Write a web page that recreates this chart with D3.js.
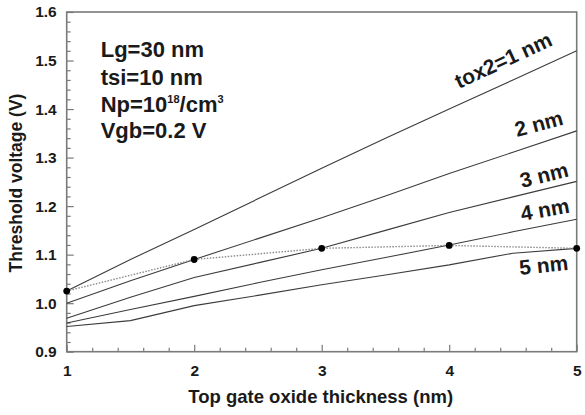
<!DOCTYPE html>
<html>
<head>
<meta charset="utf-8">
<script src="https://cdn.jsdelivr.net/npm/d3@7"></script>
<style>
  html, body { margin: 0; padding: 0; background: #fff; }
  svg { display: block; font-family: "Liberation Sans", Arial, sans-serif; }
</style>
</head>
<body>
<svg id="chart" width="585" height="415"></svg>
<script>
// ---- data ----
const topOxide = [1, 1.5, 2, 2.5, 3, 3.5, 4, 4.5, 5];
const vt_tox2_1 = [1.025, 1.090, 1.152, 1.215, 1.278, 1.340, 1.400, 1.460, 1.520];
const vt_tox2_2 = [1.000, 1.046, 1.090, 1.133, 1.176, 1.221, 1.267, 1.311, 1.355];
const vt_tox2_3 = [0.969, 1.012, 1.053, 1.083, 1.113, 1.150, 1.187, 1.219, 1.251];
const vt_tox2_4 = [0.959, 0.987, 1.014, 1.042, 1.069, 1.094, 1.120, 1.147, 1.173];
const vt_tox2_5 = [0.952, 0.964, 0.995, 1.016, 1.038, 1.058, 1.079, 1.103, 1.113];
const symX = [1, 2, 3, 4, 5];
const symY = [1.025, 1.090, 1.113, 1.119, 1.113];
const seriesLabels = ["tox2=1 nm", "2 nm", "3 nm", "4 nm", "5 nm"];
const xTicks = [1, 2, 3, 4, 5];
const yTicks = [0.9, 1.0, 1.1, 1.2, 1.3, 1.4, 1.5, 1.6];
const xTitle = "Top gate oxide thickness (nm)";
const yTitle = "Threshold voltage (V)";

const series = [vt_tox2_1, vt_tox2_2, vt_tox2_3, vt_tox2_4, vt_tox2_5];

// ---- layout ----
const svg = d3.select("#chart");
const L = 66.7, R = 576.7, T = 12, B = 351.7;
const x = d3.scaleLinear().domain([1, 5]).range([L, R]);
const y = d3.scaleLinear().domain([0.9, 1.6]).range([B, T]);
const textCol = "#1a1a1a";
const frameCol = "#7a7a7a";

// minor ticks
const xMinor = d3.range(1, 5.0001, 0.2).filter(v => Math.abs(v - Math.round(v)) > 1e-6);
const yMinor = d3.range(0.9, 1.6001, 0.02).filter(v => Math.abs(v * 10 - Math.round(v * 10)) > 1e-6);

const gx = svg.append("g").attr("transform", `translate(0,${B})`)
  .call(d3.axisBottom(x).tickValues(xTicks).tickSizeInner(-7).tickSizeOuter(0).tickPadding(13).tickFormat(d3.format("d")));
const gxm = svg.append("g").attr("transform", `translate(0,${B})`)
  .call(d3.axisBottom(x).tickValues(xMinor).tickSizeInner(-4).tickSizeOuter(0).tickFormat(""));
const gy = svg.append("g").attr("transform", `translate(${L},0)`)
  .call(d3.axisLeft(y).tickValues(yTicks).tickSizeInner(-7).tickSizeOuter(0).tickPadding(10).tickFormat(d3.format(".1f")));
const gym = svg.append("g").attr("transform", `translate(${L},0)`)
  .call(d3.axisLeft(y).tickValues(yMinor).tickSizeInner(-4).tickSizeOuter(0).tickFormat(""));

[gx, gxm, gy, gym].forEach(g => {
  g.select(".domain").remove();
  g.selectAll(".tick line").attr("stroke", frameCol).attr("stroke-width", 1.2);
  g.selectAll(".tick text").attr("fill", textCol).attr("font-size", 15.5).attr("font-weight", "bold");
});
gx.selectAll(".tick text").attr("dy", "0.71em");

// frame
svg.append("rect").attr("x", L).attr("y", T).attr("width", R - L).attr("height", B - T)
  .attr("fill", "none").attr("stroke", frameCol).attr("stroke-width", 1.6);

// curves
const line = d3.line().x((d, i) => x(topOxide[i])).y(d => y(d));
series.forEach(s => {
  svg.append("path").datum(s).attr("d", line)
    .attr("fill", "none").attr("stroke", "#3c3c3c").attr("stroke-width", 1.1);
});

// dotted line with symbols
const symLine = d3.line().x((d, i) => x(symX[i])).y(d => y(d));
svg.append("path").datum(symY).attr("d", symLine)
  .attr("fill", "none").attr("stroke", "#8a8a8a").attr("stroke-width", 1.4).attr("stroke-dasharray", "1.5,1.5");
svg.selectAll("circle.sym").data(symY).enter().append("circle")
  .attr("cx", (d, i) => x(symX[i])).attr("cy", d => y(d)).attr("r", 3.4).attr("fill", "#000");

// curve labels
const labelPos = [
  { x: 459, y: 89, a: -25 },
  { x: 517, y: 137, a: -15 },
  { x: 522, y: 188, a: -14 },
  { x: 522, y: 221, a: -10 },
  { x: 520, y: 275, a: -6 }
];
seriesLabels.forEach((t, i) => {
  const p = labelPos[i];
  svg.append("text").attr("transform", `translate(${p.x},${p.y}) rotate(${p.a})`)
    .attr("font-size", 21).attr("font-weight", "bold").attr("fill", textCol).text(t);
});

// annotation
const ann = svg.append("g").attr("font-size", 22).attr("font-weight", "bold").attr("fill", textCol);
ann.append("text").attr("x", 100.7).attr("y", 57.3).text("Lg=30 nm");
ann.append("text").attr("x", 100.7).attr("y", 85).text("tsi=10 nm");
const np = ann.append("text").attr("x", 100.7).attr("y", 112.3);
np.append("tspan").text("Np=10");
np.append("tspan").attr("font-size", 11).attr("dy", -9).text("18");
np.append("tspan").attr("dy", 9).text("/cm");
np.append("tspan").attr("font-size", 11).attr("dy", -9).text("3");
ann.append("text").attr("x", 100.7).attr("y", 138.3).text("Vgb=0.2 V");

// axis titles
svg.append("text").attr("x", (L + R) / 2 - 1).attr("y", 403).attr("text-anchor", "middle")
  .attr("font-size", 18.5).attr("font-weight", "bold").attr("fill", textCol).text(xTitle);
svg.append("text").attr("transform", `translate(22,183) rotate(-90)`).attr("text-anchor", "middle")
  .attr("font-size", 17.5).attr("font-weight", "bold").attr("fill", textCol).text(yTitle);
</script>
</body>
</html>
